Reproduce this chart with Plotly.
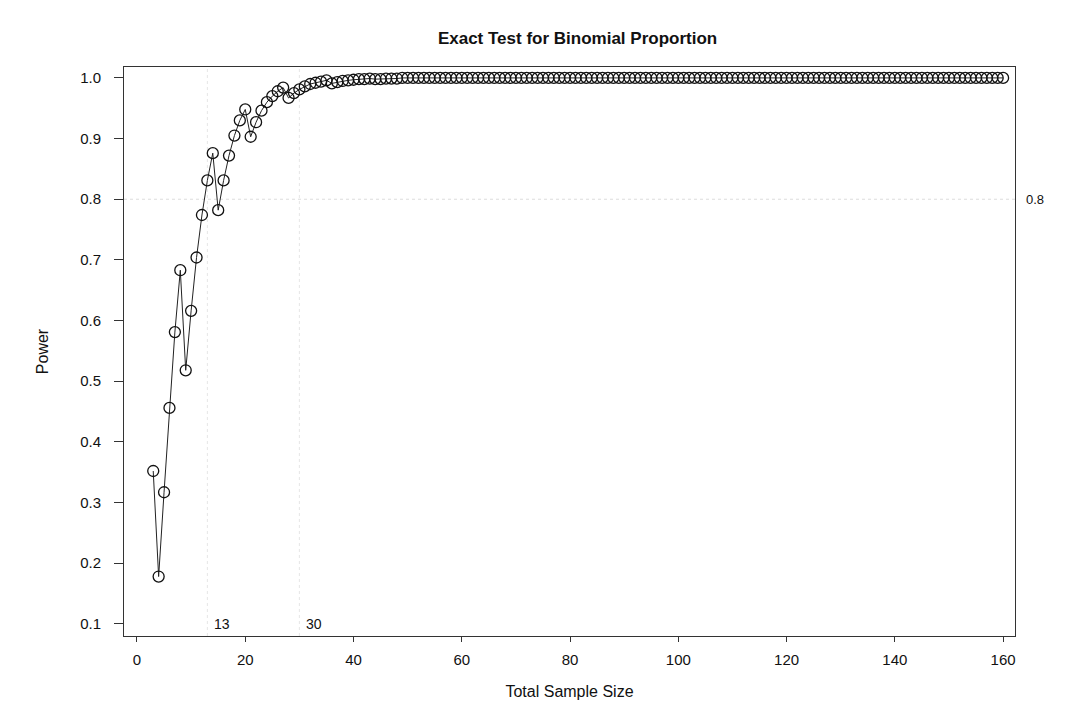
import plotly.graph_objects as go

sample_size = list(range(3, 161))

power_early = [
    0.352, 0.178, 0.317, 0.456, 0.581, 0.683, 0.518, 0.616, 0.704, 0.774,  # n=3..12
    0.831, 0.876, 0.782, 0.831, 0.872, 0.905, 0.930, 0.948, 0.903, 0.927,  # n=13..22
    0.946, 0.960, 0.970, 0.978, 0.984, 0.967, 0.975, 0.981, 0.986, 0.990,  # n=23..32
    0.992, 0.994, 0.996, 0.991, 0.993, 0.995, 0.996, 0.997, 0.998, 0.998,  # n=33..42
    0.999, 0.998, 0.998, 0.999, 0.999, 0.999,                              # n=43..48
]
power_late = [
    1.0, 1.0, 1.0, 1.0, 1.0, 1.0, 1.0, 1.0, 1.0, 1.0,
    1.0, 1.0, 1.0, 1.0, 1.0, 1.0, 1.0, 1.0, 1.0, 1.0,
    1.0, 1.0, 1.0, 1.0, 1.0, 1.0, 1.0, 1.0, 1.0, 1.0,
    1.0, 1.0, 1.0, 1.0, 1.0, 1.0, 1.0, 1.0, 1.0, 1.0,
    1.0, 1.0, 1.0, 1.0, 1.0, 1.0, 1.0, 1.0, 1.0, 1.0,
    1.0, 1.0, 1.0, 1.0, 1.0, 1.0, 1.0, 1.0, 1.0, 1.0,
    1.0, 1.0, 1.0, 1.0, 1.0, 1.0, 1.0, 1.0, 1.0, 1.0,
    1.0, 1.0, 1.0, 1.0, 1.0, 1.0, 1.0, 1.0, 1.0, 1.0,
    1.0, 1.0, 1.0, 1.0, 1.0, 1.0, 1.0, 1.0, 1.0, 1.0,
    1.0, 1.0, 1.0, 1.0, 1.0, 1.0, 1.0, 1.0, 1.0, 1.0,
    1.0, 1.0, 1.0, 1.0, 1.0, 1.0, 1.0, 1.0, 1.0, 1.0,
    1.0, 1.0,
]
power = power_early + power_late

target_power = 0.8
ref_sizes = [13, 30]
x_ticks = [0, 20, 40, 60, 80, 100, 120, 140, 160]
y_ticks = [0.1, 0.2, 0.3, 0.4, 0.5, 0.6, 0.7, 0.8, 0.9, 1.0]

FONT = "Liberation Sans, Arial, sans-serif"

fig = go.Figure()

fig.add_trace(go.Scatter(
    x=sample_size[:len(power)], y=power,
    mode="lines+markers",
    line=dict(color="#222222", width=1),
    marker=dict(symbol="circle-open", size=11, color="#111111", line=dict(width=1.3)),
    showlegend=False,
))

# reference lines
fig.add_hline(y=target_power, line=dict(color="#dcdcdc", width=1, dash="dot"), layer="below")
for s in ref_sizes:
    fig.add_vline(x=s, line=dict(color="#e6e6e6", width=1, dash="dot"), layer="below")

annotations = [
    dict(x=1, xref="paper", y=target_power, yref="y", text=f"{target_power}",
         showarrow=False, xanchor="left", xshift=9, font=dict(size=13, family=FONT, color="#111")),
]
for s in ref_sizes:
    annotations.append(dict(x=s, y=0.1, xref="x", yref="y", text=str(s), showarrow=False,
                            xanchor="center", xshift=15, font=dict(size=14, family=FONT, color="#111")))

fig.update_layout(
    width=1071, height=720,
    margin=dict(l=116, r=64, t=59, b=92, autoexpand=False),
    paper_bgcolor="white", plot_bgcolor="white",
    title=dict(text="<b>Exact Test for Binomial Proportion</b>", x=0.5318, xanchor="center",
               y=0.958, yanchor="middle", font=dict(size=17, family=FONT, color="#111")),
    annotations=annotations,
    xaxis=dict(
        range=[-2.4, 162.2], tickvals=x_ticks, ticks="outside", ticklen=5,
        tickcolor="#333", showgrid=False, zeroline=False, automargin=False,
        showline=True, linecolor="#333", linewidth=1, mirror=True,
        tickfont=dict(size=15, family=FONT, color="#111"), ticklabelstandoff=5,
        title=dict(text="Total Sample Size", font=dict(size=16, family=FONT, color="#111"), standoff=18),
    ),
    yaxis=dict(
        range=[0.080, 1.018], tickvals=y_ticks, tickformat=".1f", ticks="outside", ticklen=9,
        tickcolor="#333", showgrid=False, zeroline=False, automargin=False,
        showline=True, linecolor="#333", linewidth=1, mirror=True,
        tickfont=dict(size=15, family=FONT, color="#111"), ticklabelstandoff=10,
        title=dict(text="Power", font=dict(size=16, family=FONT, color="#111"), standoff=27),
    ),
)

fig.write_html("out.html")
